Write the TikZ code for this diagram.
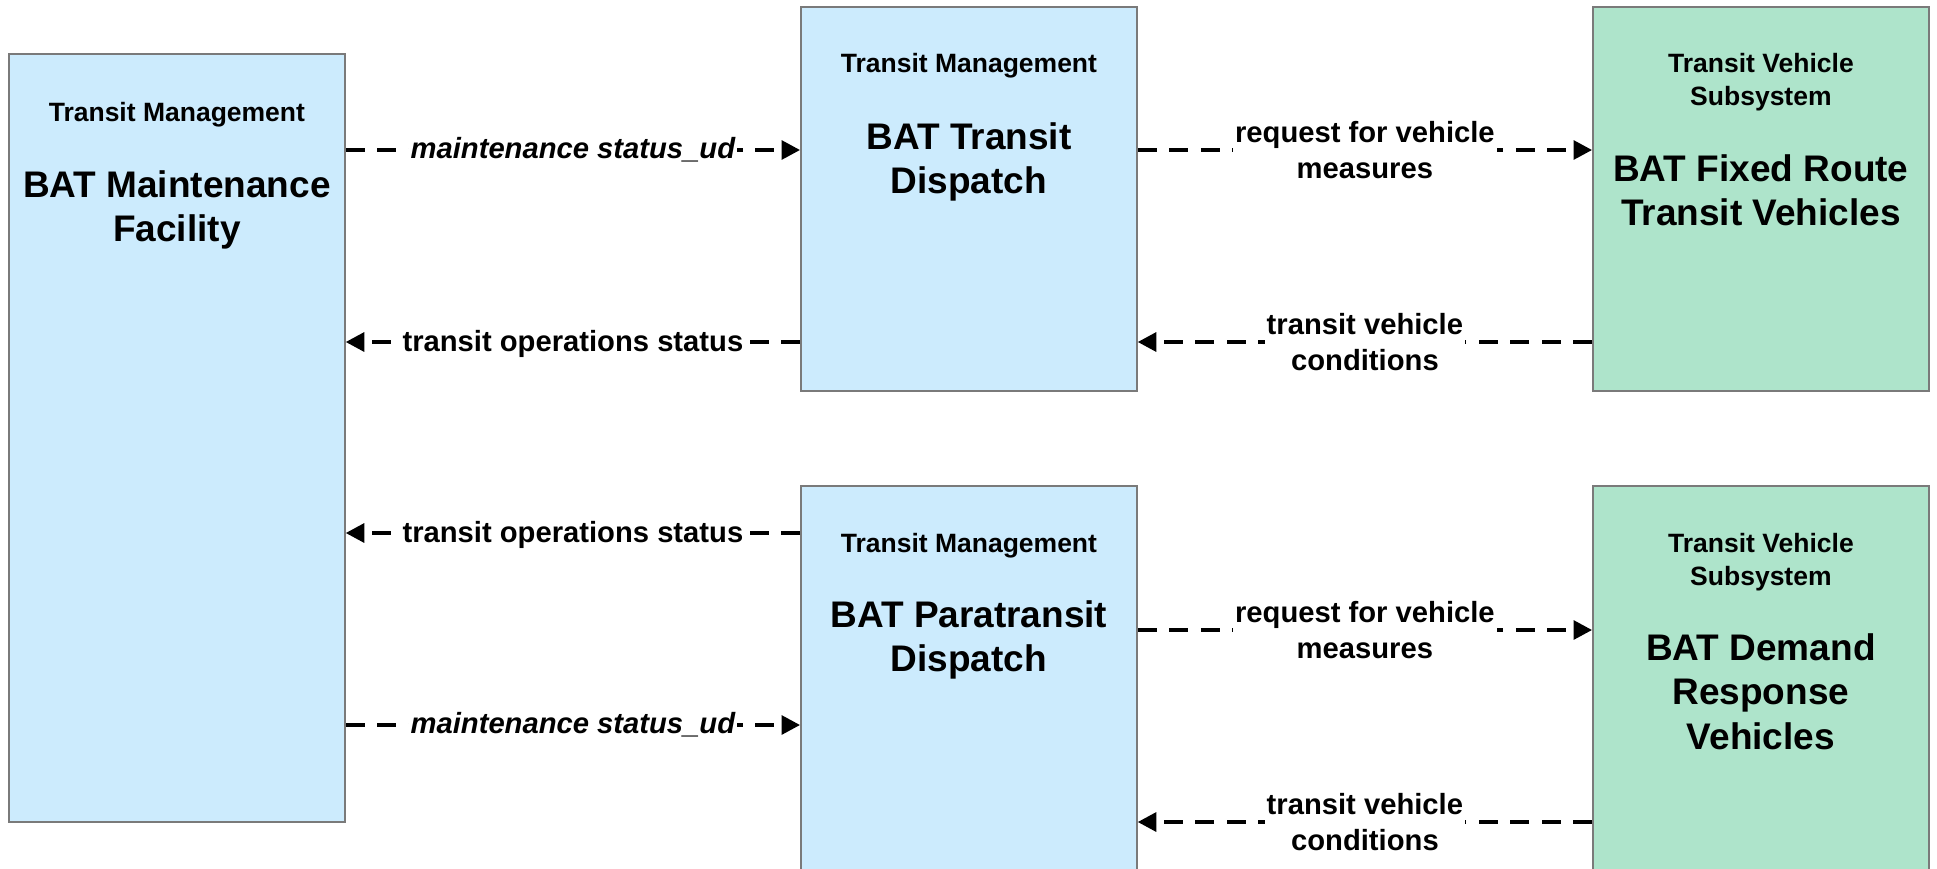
\documentclass[tikz,border=0pt]{standalone}
\usepackage{fontspec}
\setmainfont{Liberation Sans}
\usetikzlibrary{arrows.meta}
\definecolor{boxblue}{HTML}{CCEBFD}
\definecolor{boxgreen}{HTML}{AEE4CB}
\definecolor{boxedge}{HTML}{7A7A7A}
\tikzset{
  sysbox/.style={draw=boxedge, line width=1.8pt, inner sep=0pt, anchor=north west, minimum width=336pt},
  mgmtbox/.style={sysbox, fill=boxblue},
  vehbox/.style={sysbox, fill=boxgreen},
  smalltxt/.style={anchor=north, align=center, inner sep=0pt, font=\fontsize{26.5}{33}\selectfont\bfseries},
  bigtxt/.style={anchor=north, align=center, inner sep=0pt, font=\fontsize{37}{44.5}\selectfont\bfseries},
  flow/.style={line width=3.2pt, dash pattern=on 19pt off 12.5pt, -{Triangle[length=18.5pt,width=19pt]}},
  lbl/.style={fill=white, inner sep=2pt, align=center, font=\fontsize{29.2}{36}\selectfont\bfseries},
}
\begin{document}
\begin{tikzpicture}[x=1pt,y=-1pt]
\clip (0,0) rectangle (1937,868);
\fill[white] (0,0) rectangle (1937,868);
% boxes
\node[mgmtbox, minimum height=768pt] (maint) at (8,53) {};
\node[mgmtbox, minimum height=384pt] (tdisp) at (800,6) {};
\node[vehbox, minimum height=384pt] (fixed) at (1592,6) {};
\node[mgmtbox, minimum height=392pt] (pdisp) at (800,485) {};
\node[vehbox, minimum height=392pt] (demand) at (1592,485) {};
% box texts
\node[smalltxt] (maintA) at ([yshift=-49.5pt]maint.north) {Transit Management};
\node[bigtxt] (maintB) at ([yshift=-117pt]maint.north) {BAT Maintenance\\Facility};
\node[smalltxt] (tdispA) at ([yshift=-47.5pt]tdisp.north) {Transit Management};
\node[bigtxt] (tdispB) at ([yshift=-116pt]tdisp.north) {BAT Transit\\Dispatch};
\node[smalltxt] (fixedA) at ([yshift=-47.5pt]fixed.north) {Transit Vehicle\\Subsystem};
\node[bigtxt] (fixedB) at ([yshift=-148pt]fixed.north) {BAT Fixed Route\\Transit Vehicles};
\node[smalltxt] (pdispA) at ([yshift=-48.5pt]pdisp.north) {Transit Management};
\node[bigtxt] (pdispB) at ([yshift=-115pt]pdisp.north) {BAT Paratransit\\Dispatch};
\node[smalltxt] (demandA) at ([yshift=-48.5pt]demand.north) {Transit Vehicle\\Subsystem};
\node[bigtxt] (demandB) at ([yshift=-148pt]demand.north) {BAT Demand\\Response\\Vehicles};
% flows
\draw[flow] (maint.east |- 0,150) -- node[lbl] {\itshape maintenance status\_ud} (tdisp.west |- 0,150);
\draw[flow] (tdisp.west |- 0,342) -- node[lbl, yshift=-1.5pt] {transit operations status} (maint.east |- 0,342);
\draw[flow] (tdisp.east |- 0,150) -- node[lbl] {request for vehicle\\measures} (fixed.west |- 0,150);
\draw[flow] (fixed.west |- 0,342) -- node[lbl] {transit vehicle\\conditions} (tdisp.east |- 0,342);
\draw[flow] (pdisp.west |- 0,533) -- node[lbl, yshift=-1.5pt] {transit operations status} (maint.east |- 0,533);
\draw[flow] (maint.east |- 0,725) -- node[lbl] {\itshape maintenance status\_ud} (pdisp.west |- 0,725);
\draw[flow] (pdisp.east |- 0,630) -- node[lbl] {request for vehicle\\measures} (demand.west |- 0,630);
\draw[flow] (demand.west |- 0,822) -- node[lbl] {transit vehicle\\conditions} (pdisp.east |- 0,822);
\end{tikzpicture}
\end{document}
